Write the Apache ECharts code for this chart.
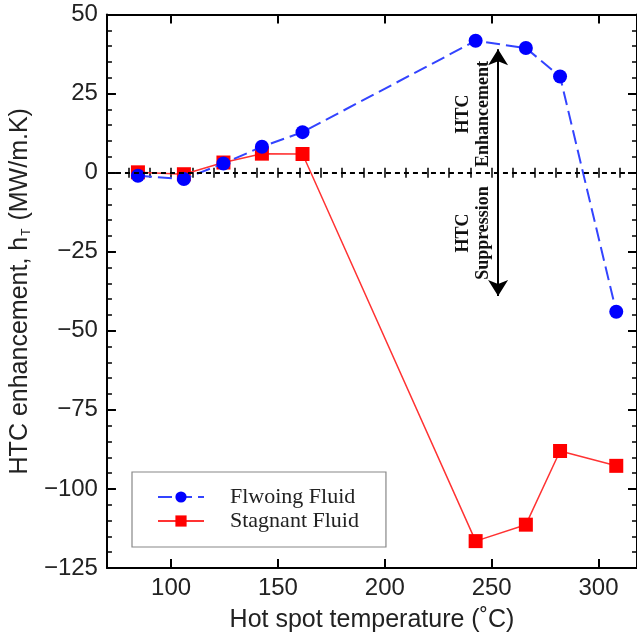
<!DOCTYPE html>
<html>
<head>
<meta charset="utf-8">
<script src="https://cdn.jsdelivr.net/npm/echarts@6/dist/echarts.min.js"></script>
<style>
html,body{margin:0;padding:0;background:#fff;}
#c{width:637px;height:638px;}
</style>
</head>
<body>
<div id="c"></div>
<script>
// ---- data ----
const temps = [84.5, 106, 124.5, 142.5, 161.5, 242.5, 266, 282, 308.3];
const flowing = [-1.0, -2.0, 2.9, 8.2, 12.8, 41.7, 39.4, 30.4, -44.0];
const stagnant = [0.1, -0.5, 3.2, 6.0, 5.9, -116.5, -111.3, -88.0, -92.7];
const seriesNames = ['Flwoing Fluid', 'Stagnant Fluid'];
const xMajorTicks = [100, 150, 200, 250, 300];
const xRange = [70, 318];
const yRange = [-125, 50];
const arrowX = 253;
const arrowSpan = [39, -39];
const xTitle = 'Hot spot temperature (\u02DAC)';

const pair = (xs, ys) => xs.map((x, i) => [x, ys[i]]);
const SANS = '"Liberation Sans", Arial, sans-serif';
const SERIF = '"Liberation Serif", "Times New Roman", serif';

const chart = echarts.init(document.getElementById('c'), null, {renderer: 'canvas'});

const lineBlack = {color: '#000', width: 2};
const baseX = {
  type: 'value', min: xRange[0], max: xRange[1],
  splitLine: {show: false}, axisLine: {show: false}, axisLabel: {show: false},
  axisTick: {show: false}
};

const option = {
  backgroundColor: '#fff',
  animation: false,
  grid: {left: 106, right: -2, top: 14.5, bottom: 66.5, containLabel: false},
  xAxis: [
    Object.assign({}, baseX, {
      position: 'bottom',
      axisLine: {show: true, onZero: false, lineStyle: lineBlack},
      axisTick: {show: true, inside: true, length: 9, lineStyle: lineBlack, customValues: xMajorTicks},
      axisLabel: {show: true, customValues: xMajorTicks, margin: 8, fontSize: 24, color: '#222', fontFamily: SANS},
      name: xTitle, nameLocation: 'middle', nameGap: 40,
      nameTextStyle: {fontSize: 25, color: '#222', fontFamily: SANS}
    }),
    Object.assign({}, baseX, {
      position: 'top',
      axisLine: {show: true, onZero: false, lineStyle: lineBlack},
      axisTick: {show: true, inside: true, length: 9, lineStyle: lineBlack, customValues: xMajorTicks}
    }),
    Object.assign({}, baseX, {
      position: 'bottom', interval: 10,
      axisTick: {show: true, inside: true, length: 5, lineStyle: {color: '#000', width: 1.5}}
    }),
    Object.assign({}, baseX, {
      position: 'top', interval: 10,
      axisTick: {show: true, inside: true, length: 5, lineStyle: {color: '#000', width: 1.5}}
    })
  ],
  yAxis: [
    {
      type: 'value', position: 'left', min: yRange[0], max: yRange[1], interval: 25,
      splitLine: {show: false},
      axisLine: {show: true, onZero: false, lineStyle: lineBlack},
      axisTick: {show: true, inside: true, length: 9, lineStyle: lineBlack},
      minorTick: {show: true, splitNumber: 5, length: 5, lineStyle: {color: '#000', width: 1.5}},
      axisLabel: {margin: 9, fontSize: 24, color: '#222', fontFamily: SANS,
        formatter: v => String(v).replace('-', '\u2212')},
      name: '{a|HTC enhancement, h}{s|T}{a| (MW/m.K)}',
      nameLocation: 'middle', nameGap: 64, nameRotate: 90,
      nameTextStyle: {
        color: '#222', fontFamily: SANS, fontSize: 25,
        rich: {
          a: {fontSize: 25, color: '#222', fontFamily: SANS, lineHeight: 30, verticalAlign: 'bottom'},
          s: {fontSize: 12, color: '#222', fontFamily: SANS, lineHeight: 30, verticalAlign: 'bottom', padding: [0, 1, 0, 1]}
        }
      }
    },
    {
      type: 'value', position: 'right', min: yRange[0], max: yRange[1], interval: 25,
      splitLine: {show: false},
      axisLine: {show: true, onZero: false, lineStyle: lineBlack},
      axisTick: {show: true, inside: true, length: 9, lineStyle: lineBlack},
      minorTick: {show: true, splitNumber: 5, length: 5, lineStyle: {color: '#000', width: 1.5}},
      axisLabel: {show: false}
    }
  ],
  legend: {
    data: seriesNames,
    orient: 'vertical',
    left: 132, top: 472,
    padding: [13, 27, 14, 25],
    itemGap: 0,
    itemWidth: 46, itemHeight: 14,
    borderColor: '#888', borderWidth: 1.2, borderRadius: 0,
    backgroundColor: '#fff',
    textStyle: {fontFamily: SERIF, fontSize: 22, color: '#222', lineHeight: 24, padding: [0, 0, 0, 21]}
  },
  series: [
    {
      name: seriesNames[1], type: 'line', xAxisIndex: 0, yAxisIndex: 0,
      data: pair(temps, stagnant),
      symbol: 'rect', symbolSize: 14,
      itemStyle: {color: '#ff0000'},
      lineStyle: {color: '#ff3333', width: 1.5, type: 'solid'},
      z: 3,
      markLine: {
        silent: true, symbol: ['none', 'none'], label: {show: false},
        lineStyle: {color: '#000', width: 2, type: [5, 4]},
        data: [{yAxis: 0}]
      }
    },
    {
      name: seriesNames[0], type: 'line', xAxisIndex: 0, yAxisIndex: 0,
      data: pair(temps, flowing),
      symbol: 'circle', symbolSize: 14,
      itemStyle: {color: '#0000ff'},
      lineStyle: {color: '#3344ff', width: 2, type: [14, 6]},
      z: 4,
      markLine: {
        silent: true, symbol: ['arrow', 'arrow'], symbolSize: [15, 16], label: {show: false},
        lineStyle: {color: '#000', width: 2, type: 'solid'},
        data: [[{coord: [arrowX, arrowSpan[0]]}, {coord: [arrowX, arrowSpan[1]]}]]
      }
    }
  ],
  graphic: [
    {
      type: 'text', x: 473, y: 114, rotation: Math.PI / 2,
      style: {text: 'HTC\nEnhancement', align: 'center', verticalAlign: 'middle',
        font: 'bold 18px "Liberation Serif", serif', lineHeight: 20, fill: '#111'}
    },
    {
      type: 'text', x: 473, y: 233, rotation: Math.PI / 2,
      style: {text: 'HTC\nSuppression', align: 'center', verticalAlign: 'middle',
        font: 'bold 18px "Liberation Serif", serif', lineHeight: 20, fill: '#111'}
    }
  ]
};
chart.setOption(option);
</script>
</body>
</html>
